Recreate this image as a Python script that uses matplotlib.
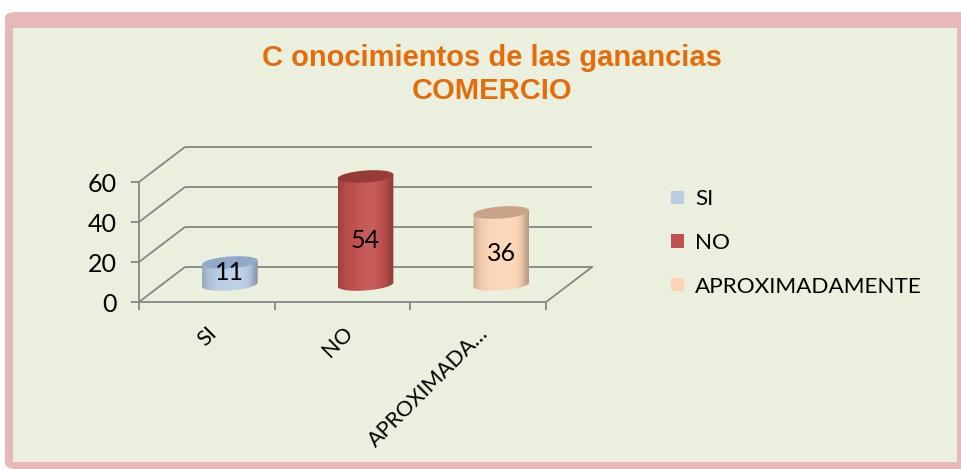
import matplotlib
matplotlib.use('Agg')
import matplotlib.pyplot as plt
import numpy as np
from matplotlib.patches import Patch, PathPatch, Polygon, FancyBboxPatch, Rectangle
from matplotlib.path import Path
from matplotlib.colors import to_rgb

# datos
categorias = ['SI', 'NO', 'APROXIMADAMENTE']
valores = [11, 54, 36]
etiquetas_x = ['SI', 'NO', 'APROXIMADA…']
colores = ['#B9CDE5', '#C0504D', '#FCD5B5']
colores_tapa = ['#93A9C9', '#983a38', '#C6A389']
yticks = [0, 20, 40, 60]

titulo1 = 'C onocimientos de las ganancias'
titulo2 = 'COMERCIO'

W, H = 961, 469
fig = plt.figure(figsize=(W / 100, H / 100), dpi=100)
fig.patch.set_facecolor('white')

# marco rosa y fondo verde
fig.patches.append(FancyBboxPatch((5 / W, 0), (W + 10) / W, (H - 12) / H, boxstyle='round,pad=0,rounding_size=0.012',
                                  transform=fig.transFigure, facecolor='#E6B9B8', edgecolor='none', zorder=-2))
fig.patches.append(Rectangle((13 / W, 7 / H), (957 - 13) / W, (462 - 28) / H,
                             transform=fig.transFigure, facecolor='#EBEFDE', edgecolor='none', zorder=-1))

fig.text(492 / W, 1 - 58 / H, titulo1, ha='center', va='center', color='#E46C0A',
         fontsize=21, fontweight='bold', family='Liberation Sans')
fig.text(492 / W, 1 - 91 / H, titulo2, ha='center', va='center', color='#E46C0A',
         fontsize=21, fontweight='bold', family='Liberation Sans')

# ejes (perspectiva falsa)
cat_px = 135.7
unit_px = 2.0
xmax, ymax = 3.4, 78
ax = fig.add_axes([139 / W, 1 - 302 / H, xmax * cat_px / W, ymax * unit_px / H])
ax.set_facecolor('none')
ax.set_xlim(0, xmax)
ax.set_ylim(0, ymax)

dx = 46 / cat_px
dy = 35 / unit_px
gris = '#868686'
lw = 1.3

for v in yticks:
    ax.plot([0, dx], [v, v + dy], color=gris, lw=lw, zorder=1, solid_capstyle='butt')
    ax.plot([dx, 3 + dx], [v + dy, v + dy], color=gris, lw=lw, zorder=1, solid_capstyle='butt')
ax.plot([3, 3 + dx], [0, dy], color=gris, lw=lw, zorder=1)

for sp in ['top', 'right']:
    ax.spines[sp].set_visible(False)
for sp in ['left', 'bottom']:
    ax.spines[sp].set_color(gris)
    ax.spines[sp].set_linewidth(lw)
ax.spines['left'].set_bounds(0, 60)
ax.spines['bottom'].set_bounds(0, 3)

ax.set_yticks(yticks)
ax.set_yticklabels([str(v) for v in yticks])
ax.tick_params(axis='y', direction='out', length=6, width=lw, color=gris, pad=10,
               labelsize=18, labelfontfamily='Lato')
ax.set_xticks([0, 1, 2, 3])
ax.set_xticklabels([])
ax.tick_params(axis='x', which='major', direction='out', length=6, width=lw, color=gris)
ax.set_xticks([0.5, 1.5, 2.5], minor=True)
ax.set_xticklabels(etiquetas_x, minor=True, rotation=45, ha='right', va='top',
                   rotation_mode='anchor')
ax.tick_params(axis='x', which='minor', length=0, pad=15, labelsize=15.6, labelfontfamily='Lato')


def sombra(base, n=64):
    t = np.linspace(0, 1, n)
    f = np.interp(t, [0, 0.12, 0.5, 0.65, 0.85, 1], [-0.18, -0.06, 0.08, 0.08, -0.05, -0.28])
    rgb = np.array(to_rgb(base))
    out = []
    for k in f:
        if k >= 0:
            out.append(rgb + (1 - rgb) * k)
        else:
            out.append(rgb * (1 + k))
    return np.clip(np.array(out), 0, 1)


def elipse(cx, cy, a):
    # elipse algo inclinada: lado derecho mas alto
    return [(cx + w * np.cos(t), cy + h * np.sin(t) + s * np.cos(t)) for t in a]


w = 0.205
h = 3.0
s = 1.0
base = dy / 2
for i, v in enumerate(valores):
    cx = i + 0.5 + dx / 2
    top = base + v
    pts = [(cx - w, top - s)]
    pts += elipse(cx, base, np.linspace(np.pi, 2 * np.pi, 40))
    pts += [(cx + w, top + s), (cx - w, top - s)]
    clip = PathPatch(Path(pts), facecolor='none', edgecolor='none', transform=ax.transData)
    ax.add_patch(clip)
    grad = sombra(colores[i])[np.newaxis, :, :]
    im = ax.imshow(grad, extent=[cx - w, cx + w, base - h - s, top + s], aspect='auto',
                   origin='lower', zorder=3, interpolation='bilinear')
    im.set_clip_path(clip)
    ax.add_patch(Polygon(elipse(cx, top, np.linspace(0, 2 * np.pi, 80)), closed=True,
                         facecolor=colores_tapa[i], edgecolor='none', zorder=4))
    ax.text(cx, base + 0.38 * v + 1.6, str(v), ha='center', va='center',
            fontsize=18, family='Lato', color='black', zorder=5)

ax.set_xlim(0, xmax)
ax.set_ylim(0, ymax)

handles = [Patch(facecolor=c, edgecolor='none') for c in colores]
fig.legend(handles, categorias, loc='center left', bbox_to_anchor=(660 / W, 1 - 243 / H),
           frameon=False, prop={'family': 'Lato', 'size': 16.2}, handlelength=0.55,
           handleheight=0.55, handletextpad=0.5, labelspacing=1.05, borderpad=0)

fig.savefig('out.png', dpi=100)
